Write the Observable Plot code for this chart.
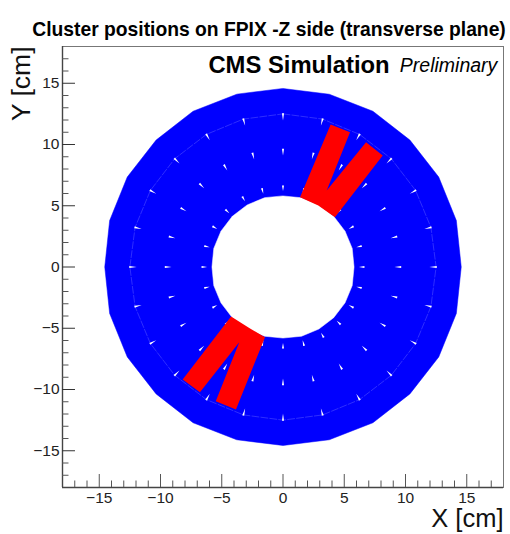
<!DOCTYPE html>
<html><head><meta charset="utf-8">
<script src="https://cdn.jsdelivr.net/npm/d3@7"></script>
<script src="https://cdn.jsdelivr.net/npm/@observablehq/plot@0.6"></script>
<style>html,body{margin:0;padding:0;background:#fff}svg{display:block}</style>
</head><body><div id="c"></div>
<script>
const angles = [0,15,30,45,60,75,90,105,120,135,150,165,180,195,210,225,240,255,270,285,300,315,330,345];
const outerR = [14.57,14.6,14.68,14.65,14.68,14.65,14.55,14.65,14.68,14.65,14.68,14.6,14.57,14.6,14.68,14.65,14.68,14.65,14.55,14.65,14.68,14.65,14.68,14.6];
const innerR = [5.8,5.85,5.85,5.85,5.85,5.85,5.8,5.85,5.85,5.85,5.85,5.85,5.8,5.85,5.85,5.85,5.85,5.85,5.8,5.85,5.85,5.85,5.85,5.85];
const ringR = 12.5;
const spikeBands = [[6.2,6.65],[9.1,9.65],[11.95,12.55]];
const redUpperX = [1.39,3.89,5.47,3.57,6.78,8.14,4.24,2.88];
const redUpperY = [5.70,11.63,11.0,6.24,10.19,9.10,4.07,5.02];
const redLowerX = [-4.24,-8.19,-6.78,-3.57,-5.49,-3.84,-1.47,-2.69];
const redLowerY = [-4.04,-9.18,-10.22,-6.14,-10.96,-11.63,-5.73,-5.02];
const majorTicks = [-15,-10,-5,0,5,10,15];
const minorTicks = [-17,-16,-14,-13,-12,-11,-9,-8,-7,-6,-4,-3,-2,-1,1,2,3,4,6,7,8,9,11,12,13,14,16,17];

const rad = d => d*Math.PI/180;
const polar = (r,a) => ({x:r*Math.sin(rad(a)), y:r*Math.cos(rad(a))});
const outerPts = angles.map((a,i)=>polar(outerR[i],a));
const innerPts = angles.map((a,i)=>polar(innerR[i],a));
const ringPts = angles.map(a=>polar(ringR,a));
const redPts = [
  ...redUpperX.map((x,i)=>({x,y:redUpperY[i],k:"u"})),
  ...redLowerX.map((x,i)=>({x,y:redLowerY[i],k:"l"}))
];
const spikes = [];
angles.forEach(a=>spikeBands.forEach((b,j)=>{
  const k=a+"-"+j;
  const w=0.085/b[1]*(180/Math.PI);
  const t=polar(b[0],a), l=polar(b[1],a-w), r=polar(b[1],a+w);
  spikes.push({...t,k},{...l,k},{...r,k});
}));
const tickLabel = d3.format("d");
const F="Liberation Sans, Arial, sans-serif";
const chart = Plot.plot({
  width:510,height:534,marginTop:46,marginBottom:47,marginLeft:62,marginRight:7,
  style:{fontFamily:F,background:"#fff",overflow:"visible"},
  x:{domain:[-18,18],label:null},
  y:{domain:[-18,18],label:null},
  marks:[
    Plot.line(outerPts,{x:"x",y:"y",curve:"linear-closed",fill:"#0000ff",stroke:"#0000ff",strokeWidth:0.5}),
    Plot.line(ringPts,{x:"x",y:"y",curve:"linear-closed",stroke:"#5c5cff",strokeWidth:0.5,strokeDasharray:"7 2"}),
    Plot.line(spikes,{x:"x",y:"y",z:"k",curve:"linear-closed",fill:"#fff",stroke:"none"}),
    Plot.line(innerPts,{x:"x",y:"y",curve:"linear-closed",fill:"#fff",stroke:"#fff",strokeWidth:0.5}),
    Plot.line(redPts,{x:"x",y:"y",z:"k",curve:"linear-closed",fill:"#ff0000",stroke:"none"}),
    Plot.frame({stroke:"#777",strokeWidth:1}),
    Plot.ruleX([-18],{stroke:"#444",strokeWidth:1.4}),
    Plot.ruleY([-18],{stroke:"#444",strokeWidth:1.4}),
    Plot.ruleX(majorTicks,{x:d=>d,y1:-18,y2:-16.94,stroke:"#555",strokeWidth:1}),
    Plot.ruleX(minorTicks,{x:d=>d,y1:-18,y2:-17.47,stroke:"#555",strokeWidth:1}),
    Plot.ruleY(majorTicks,{y:d=>d,x1:-18,x2:-16.94,stroke:"#333",strokeWidth:1}),
    Plot.ruleY(minorTicks,{y:d=>d,x1:-18,x2:-17.47,stroke:"#555",strokeWidth:1}),
    Plot.axisX(majorTicks,{anchor:"bottom",tickSize:0,tickPadding:4,tickFormat:tickLabel,fontSize:15.5,fill:"#222",label:null}),
    Plot.axisY(majorTicks,{anchor:"left",tickSize:0,tickPadding:3,tickFormat:tickLabel,fontSize:15.5,fill:"#222",label:null}),
    Plot.text(["CMS Simulation"],{x:8.7,y:16.5,text:d=>d,textAnchor:"end",fontWeight:"bold",fontSize:23.8,fill:"#000"}),
    Plot.text(["Preliminary"],{x:17.5,y:16.4,text:d=>d,textAnchor:"end",fontStyle:"italic",fontSize:19.5,fill:"#000"}),
    Plot.text(["Cluster positions on FPIX -Z side (transverse plane)"],{frameAnchor:"top",dx:-14,dy:-24,text:d=>d,fontWeight:"bold",fontSize:19.3,fill:"#000"}),
    Plot.text(["X [cm]"],{frameAnchor:"bottom-right",dy:39,text:d=>d,textAnchor:"end",fontSize:25.5,fill:"#111"}),
    Plot.text(["Y [cm]"],{frameAnchor:"top-left",dx:-51,rotate:-90,text:d=>d,textAnchor:"end",fontSize:26.5,fill:"#111"})
  ]
});
document.getElementById("c").append(chart);
</script></body></html>
